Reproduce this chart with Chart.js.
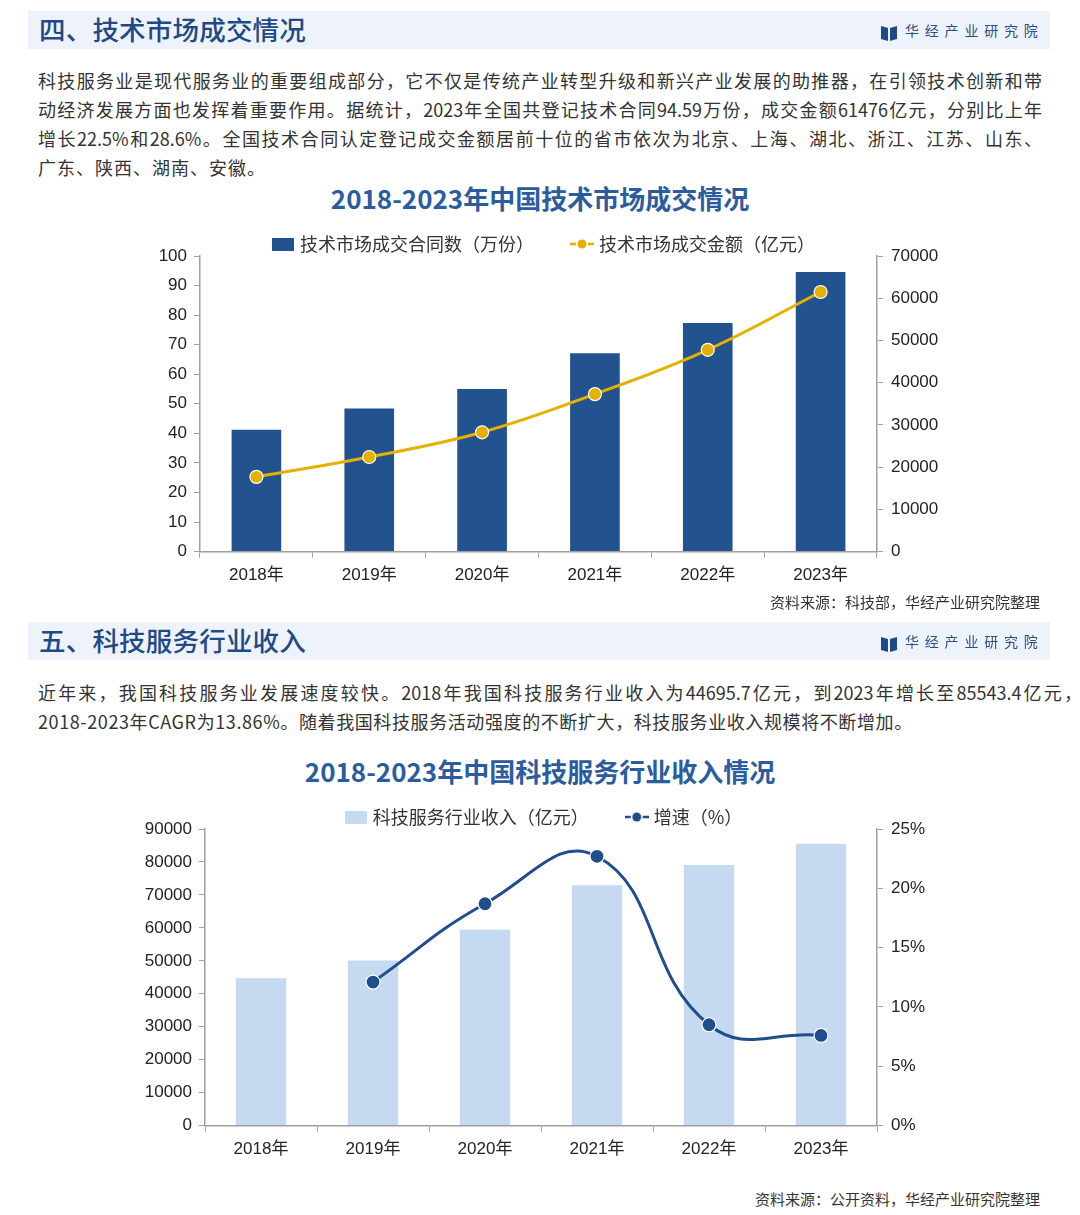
<!DOCTYPE html>
<html><head><meta charset="utf-8">
<script src="https://cdn.jsdelivr.net/npm/chart.js@4.4.1/dist/chart.umd.min.js"></script>
<style>
html,body{margin:0;padding:0;background:#fff;}
body{width:1080px;height:1215px;position:relative;overflow:hidden;font-family:"Noto Sans CJK SC","Noto Sans",sans-serif;color:#333;}
.hdr{position:absolute;left:28px;width:1022px;height:38px;background:#eef3fb;}
.hdr .t{position:absolute;left:11px;top:-1px;line-height:38px;font-size:26.5px;font-weight:500;color:#1f4a87;letter-spacing:0.2px;}
.hdr .logo{position:absolute;left:853px;top:11px;height:16px;}
.hdr .logo span{position:absolute;left:24px;top:-3px;font-size:14px;color:#2b4f80;letter-spacing:5.8px;white-space:nowrap;line-height:22px;}
.p{position:absolute;left:38px;font-size:18px;line-height:29px;height:29px;white-space:nowrap;color:#333;letter-spacing:1px;}
.j{width:1004px;text-align:justify;text-align-last:justify;letter-spacing:0;}
.ct{position:absolute;left:0;width:1080px;text-align:center;font-size:26px;font-weight:700;color:#2b5c9e;line-height:34px;}
.src{position:absolute;right:40px;font-size:15px;color:#333;line-height:20px;}
canvas{position:absolute;}
</style></head>
<body>
<div class="hdr" style="top:11px"><div class="t">四、技术市场成交情况</div>
<div class="logo"><svg width="16" height="16" viewBox="0 0 16 16"><polygon points="0,1 7,3 7,16 0,14" fill="#1f4a87"/><polygon points="9,3 16,1 16,14 9,16" fill="#1f4a87"/></svg><span>华经产业研究院</span></div></div>
<div class="p j" style="top:66px">科技服务业是现代服务业的重要组成部分，它不仅是传统产业转型升级和新兴产业发展的助推器，在引领技术创新和带</div>
<div class="p j" style="top:95px">动经济发展方面也发挥着重要作用。据统计，2023年全国共登记技术合同94.59万份，成交金额61476亿元，分别比上年</div>
<div class="p j" style="top:124px">增长22.5%和28.6%。全国技术合同认定登记成交金额居前十位的省市依次为北京、上海、湖北、浙江、江苏、山东、</div>
<div class="p" style="top:153px">广东、陕西、湖南、安徽。</div>
<div class="ct" style="top:181px">2018-2023年中国技术市场成交情况</div>
<canvas id="c1" width="830" height="406" style="left:130px;top:188px;width:830px;height:406px"></canvas>
<div class="src" style="top:592px">资料来源：科技部，华经产业研究院整理</div>

<div class="hdr" style="top:622px"><div class="t">五、科技服务行业收入</div>
<div class="logo"><svg width="16" height="16" viewBox="0 0 16 16"><polygon points="0,1 7,3 7,16 0,14" fill="#1f4a87"/><polygon points="9,3 16,1 16,14 9,16" fill="#1f4a87"/></svg><span>华经产业研究院</span></div></div>
<div class="p" style="top:678px;width:1044px;text-align:justify;text-align-last:justify;letter-spacing:0">近年来，我国科技服务业发展速度较快。2018年我国科技服务行业收入为44695.7亿元，到2023年增长至85543.4亿元，</div>
<div class="p" style="top:707px;letter-spacing:0.6px">2018-2023年CAGR为13.86%。随着我国科技服务活动强度的不断扩大，科技服务业收入规模将不断增加。</div>
<div class="ct" style="top:754px">2018-2023年中国科技服务行业收入情况</div>
<canvas id="c2" width="830" height="407" style="left:130px;top:761px;width:830px;height:407px"></canvas>
<div class="src" style="top:1189px">资料来源：公开资料，华经产业研究院整理</div>

<script>
// ---- data ----
const years = ["2018年","2019年","2020年","2021年","2022年","2023年"];
const contractCount = [41.2, 48.4, 55.0, 67.1, 77.3, 94.59];          // 万份
const contractValue = [17697, 22398, 28252, 37294, 47791, 61476];    // 亿元
const serviceRevenue = [44695.7, 50100, 59400, 72900, 79100, 85543.4]; // 亿元
const serviceGrowth = [null, 12.1, 18.7, 22.7, 8.5, 7.6];            // %
const label1a = "技术市场成交合同数（万份）";
const label1b = "技术市场成交金额（亿元）";
const label2a = "科技服务行业收入（亿元）";
const label2b = "增速（%）";

const tickFont = {family:"'Liberation Sans','Noto Sans CJK SC',Arial,sans-serif", size:17};
const legendFont = {family:"'Noto Sans CJK SC',sans-serif", size:18};
const axisColor = "#a0a0a0";

function boxIcon(color){
  const c=document.createElement('canvas');c.width=22;c.height=13;
  const x=c.getContext('2d');x.fillStyle=color;x.fillRect(0,0,22,13);return c;
}
function lineIcon(color){
  const c=document.createElement('canvas');c.width=24;c.height=14;
  const x=c.getContext('2d');x.strokeStyle=color;x.lineWidth=2.5;
  x.beginPath();x.moveTo(0,7);x.lineTo(6,7);x.moveTo(18,7);x.lineTo(24,7);x.stroke();
  x.fillStyle=color;x.beginPath();x.arc(12,7,4.5,0,Math.PI*2);x.fill();return c;
}
const shiftLegend = {id:'shiftLegend', afterLayout(chart){ if(chart.legend){chart.legend.top+=7;chart.legend.bottom+=7;} }};

function makeChart(id, cfg){
  return new Chart(document.getElementById(id), {
    data:{labels:years, datasets:cfg.datasets},
    options:{
      responsive:false, animation:false,
      layout:{padding:0},
      plugins:{
        tooltip:{enabled:false},
        legend:{position:'top', labels:{font:legendFont, color:'#333', usePointStyle:true, pointStyleWidth:16, padding:cfg.legendPad,
          generateLabels(chart){
            return chart.data.datasets.map((d,i)=>({text:d.label, pointStyle:cfg.icons[i], fillStyle:'transparent', strokeStyle:'transparent', lineWidth:0, fontColor:'#333', datasetIndex:i, hidden:false}));
          }}}
      },
      scales:{
        x:{grid:{display:true, drawOnChartArea:false, tickLength:6, color:axisColor, offset:true}, border:{color:axisColor, width:1.5},
           ticks:{font:tickFont, color:'#222', padding:8}},
        y:{position:'left', min:0, max:cfg.yMax, grid:{drawOnChartArea:false, tickLength:6, color:axisColor}, border:{color:axisColor, width:1.5},
           ticks:{stepSize:cfg.yStep, font:tickFont, color:'#222', padding:7, callback:v=>String(v)}, afterFit(s){s.width=cfg.leftW;}},
        y1:{position:'right', min:0, max:cfg.y1Max, grid:{drawOnChartArea:false, tickLength:6, color:axisColor}, border:{color:axisColor, width:1.5},
           ticks:{stepSize:cfg.y1Step, font:tickFont, color:'#222', padding:8, callback:cfg.y1cb}, afterFit(s){s.width=83;}}
      }
    },
    plugins:[shiftLegend]
  });
}

makeChart('c1', {
  yMax:100, yStep:10, y1Max:70000, y1Step:10000, leftW:70, legendPad:40,
  y1cb:v=>String(v),
  icons:[boxIcon('#22538f'), lineIcon('#e6b000')],
  datasets:[
    {type:'bar', label:label1a, data:contractCount, yAxisID:'y', backgroundColor:'#22538f', barPercentage:0.44, categoryPercentage:1, order:1},
    {type:'line', label:label1b, data:contractValue, yAxisID:'y1', borderColor:'#e6b000', borderWidth:3, tension:0.4,
     pointRadius:6.5, pointBackgroundColor:'#e6b000', pointBorderColor:'#ffffff', pointBorderWidth:1.2, order:0}
  ]
});

makeChart('c2', {
  yMax:90000, yStep:10000, y1Max:25, y1Step:5, leftW:75, legendPad:40,
  y1cb:v=>v+'%',
  icons:[boxIcon('#c5d9f0'), lineIcon('#1f4e8c')],
  datasets:[
    {type:'bar', label:label2a, data:serviceRevenue, yAxisID:'y', backgroundColor:'#c5d9f0', barPercentage:0.45, categoryPercentage:1, order:1},
    {type:'line', label:label2b, data:serviceGrowth, yAxisID:'y1', borderColor:'#1f4e8c', borderWidth:3, tension:0.45,
     pointRadius:7, pointBackgroundColor:'#1f4e8c', pointBorderColor:'#ffffff', pointBorderWidth:1.2, order:0}
  ]
});
</script>
</body></html>
